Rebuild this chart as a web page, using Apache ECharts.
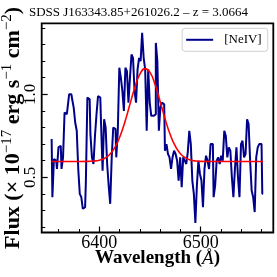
<!DOCTYPE html>
<html>
<head>
<meta charset="utf-8">
<style>html,body{margin:0;padding:0;background:#fff;}#c{width:277px;height:277px;}</style>
<script src="https://cdn.jsdelivr.net/npm/echarts@6/dist/echarts.min.js"></script>
</head>
<body>
<div id="c"></div>
<script>
// Observed spectrum: wavelength bins (Å) and flux
var WAVE = [
6353,6354.5,6356,6357.5,6359,6360.5,6362,6363.5,6365,6366.5,
6368,6369.5,6371,6372.5,6374,6375.5,6377,6378.5,6380,6381.5,
6383,6384.5,6386,6387.5,6389,6390.5,6392,6393.5,6395,6396.5,
6398,6399.5,6401,6402.5,6404,6405.5,6407,6408.5,6410,6411.5,
6413,6414.5,6416,6417.5,6419,6420.5,6422,6423.5,6425,6426.5,
6428,6429.5,6431,6432.5,6434,6435.5,6437,6438.5,6440,6441.5,
6443,6444.5,6446,6447.5,6449,6450.5,6452,6453.5,6455,6456.5,
6458,6459.5,6461,6462.5,6464,6465.5,6467,6468.5,6470,6471.5,
6473,6474.5,6476,6477.5,6479,6480.5,6482,6483.5,6485,6486.5,
6488,6489.5,6491,6492.5,6494,6495.5,6497,6498.5,6500,6501.5,
6503,6504.5,6506,6507.5,6509,6510.5,6512,6513.5,6515,6516.5,
6518,6519.5,6521,6522.5,6524,6525.5,6527,6528.5,6530,6531.5,
6533,6534.5,6536,6537.5,6539,6540.5,6542,6543.5,6545,6546.5,
6548,6549.5,6551,6552.5,6554,6555.5,6557,6558.5,6560,6561.5];
var FLUX = [
0.73,0.38,0.61,0.60,0.55,0.68,0.69,0.55,0.62,0.89,
0.88,0.92,1.00,1.00,0.97,0.92,0.83,0.78,0.55,0.40,
0.38,0.31,0.32,0.47,0.98,0.97,0.76,0.62,0.58,0.75,
0.88,0.99,0.98,0.82,0.54,0.85,0.80,0.58,0.45,0.34,
0.62,0.80,0.79,0.62,0.78,1.16,1.10,1.02,0.90,1.16,
1.14,0.95,1.10,1.24,1.22,1.02,0.95,1.15,1.22,1.20,
1.37,1.22,1.15,0.78,1.15,0.95,0.87,0.87,0.88,1.31,
1.20,0.78,0.92,0.95,0.94,0.66,0.70,0.64,0.62,0.55,
0.62,0.66,0.64,0.60,0.48,0.62,0.44,0.62,0.60,0.58,
0.65,0.78,0.70,0.48,0.40,0.224,0.45,0.60,0.52,0.48,
0.32,0.55,0.63,0.60,0.55,0.70,0.70,0.38,0.45,0.60,
0.62,0.58,0.63,0.60,0.78,0.75,0.62,0.68,0.66,0.50,
0.38,0.55,0.68,0.50,0.38,0.70,0.72,0.62,0.64,0.85,
0.82,0.60,0.42,0.38,0.29,0.62,0.68,0.70,0.70,0.40];
// Fitted line profile
var FIT_WAVE = [6353,6380,6390,6395,6400,6405,6410,6415,6420,6425,6430,6435,6440,6445,6450,6455,6460,6465,6470,6475,6480,6485,6490,6495,6500,6510,6530,6561.5];
var FIT_FLUX = [0.595,0.595,0.596,0.598,0.603,0.613,0.636,0.676,0.740,0.828,0.935,1.040,1.121,1.155,1.132,1.059,0.957,0.849,0.756,0.687,0.642,0.617,0.604,0.598,0.596,0.595,0.595,0.595];
// Ticks
var X_MAJOR = [6400,6500];
var X_MINOR = [6360,6380,6400,6420,6440,6460,6480,6500,6520,6540,6560];
var Y_MAJOR = [0.5,1.0];
var Y_MINOR = [0.2,0.3,0.4,0.5,0.6,0.7,0.8,0.9,1.0,1.1,1.2,1.3,1.4];
var TITLE = 'SDSS J163343.85+261026.2 \u2013 z = 3.0664';
var LEGEND_NAME = '[NeIV]';

var SERIF = 'Liberation Serif, DejaVu Serif, serif';
var XMIN = 6343.2, XMAX = 6571.6, YMIN = 0.167, YMAX = 1.428;

function pairs(a, b) { return a.map(function (v, i) { return [v, b[i]]; }); }

function xAx(extra) {
  return Object.assign({
    type: 'value', min: XMIN, max: XMAX, position: 'bottom',
    axisLine: { show: false }, splitLine: { show: false },
    axisLabel: { show: false }, axisTick: { show: false }
  }, extra);
}
function yAx(extra) {
  return Object.assign({
    type: 'value', min: YMIN, max: YMAX, position: 'left',
    axisLine: { show: false }, splitLine: { show: false },
    axisLabel: { show: false }, axisTick: { show: false }
  }, extra);
}

var chart = echarts.init(document.getElementById('c'), null, { renderer: 'canvas' });
chart.setOption({
  backgroundColor: '#fff',
  animation: false,
  title: {
    text: TITLE, left: 'center', top: 1,
    textStyle: { fontFamily: SERIF, fontSize: 13, fontWeight: 'normal', color: '#000' }
  },
  legend: {
    data: [{ name: LEGEND_NAME, icon: 'rect' }],
    right: 9.3, top: 28.3,
    itemWidth: 27, itemHeight: 2, itemGap: 0,
    padding: [5, 6, 5, 4],
    borderColor: '#d0d0d0', borderWidth: 1, borderRadius: 3,
    backgroundColor: '#fff',
    textStyle: { fontFamily: SERIF, fontSize: 13, color: '#000', padding: [0, 0, 0, 6] }
  },
  grid: {
    left: 41.7, right: 3.7, top: 23.3, bottom: 44.5,
    show: true, borderColor: '#000', borderWidth: 1.8, backgroundColor: 'transparent',
    outerBoundsMode: 'none'
  },
  xAxis: [
    xAx({
      name: '{b|Wavelength (}{i|\u00c5}{b|)}', nameLocation: 'middle', nameGap: 16,
      nameMoveOverlap: false,
      nameTextStyle: {
        color: '#000',
        rich: {
          b: { fontFamily: SERIF, fontSize: 19, fontWeight: 'bold', color: '#000', lineHeight: 20 },
          i: { fontFamily: SERIF, fontSize: 19, fontStyle: 'italic', color: '#000', lineHeight: 20 }
        }
      },
      axisLabel: {
        show: true, customValues: X_MAJOR, fontFamily: SERIF, fontSize: 18, color: '#000', margin: 2,
        formatter: function (v) { return String(Math.round(v)); }
      },
      axisTick: { show: true, customValues: X_MAJOR, inside: true, length: 6, lineStyle: { color: '#000', width: 1.2 } }
    }),
    xAx({
      axisTick: { show: true, customValues: X_MINOR, inside: true, length: 3.5, lineStyle: { color: '#000', width: 1 } }
    })
  ],
  yAxis: [
    yAx({
      name: '{b|Flux (\u00d7 10}{s|\u221217}{b| erg s}{s|\u22121}{b| cm}{s|\u22122}{b|)}',
      nameLocation: 'middle', nameRotate: 90, nameGap: 17, nameMoveOverlap: false,
      nameTextStyle: {
        color: '#000',
        rich: {
          b: { fontFamily: SERIF, fontSize: 22, fontWeight: 'bold', color: '#000', lineHeight: 25, verticalAlign: 'bottom' },
          s: { fontFamily: SERIF, fontSize: 15, color: '#000', lineHeight: 25, verticalAlign: 'top' }
        }
      },
      axisLabel: {
        show: true, customValues: Y_MAJOR, rotate: 90, fontFamily: SERIF, fontSize: 17, color: '#000', margin: 3,
        formatter: function (v) { return v.toFixed(1); }
      },
      axisTick: { show: true, customValues: Y_MAJOR, inside: true, length: 6, lineStyle: { color: '#000', width: 1.2 } }
    }),
    yAx({
      axisTick: { show: true, customValues: Y_MINOR, inside: true, length: 3.5, lineStyle: { color: '#000', width: 1 } }
    })
  ],
  series: [
    {
      name: LEGEND_NAME, type: 'line', step: 'middle',
      data: pairs(WAVE, FLUX), showSymbol: false, symbol: 'none',
      lineStyle: { color: '#00008b', width: 2 }, itemStyle: { color: '#00008b' },
      z: 2
    },
    {
      name: 'fit', type: 'line', smooth: 0.5,
      data: pairs(FIT_WAVE, FIT_FLUX), showSymbol: false, symbol: 'none',
      lineStyle: { color: '#ff0000', width: 1.6 }, itemStyle: { color: '#ff0000' },
      z: 3
    }
  ]
});
</script>
</body>
</html>
